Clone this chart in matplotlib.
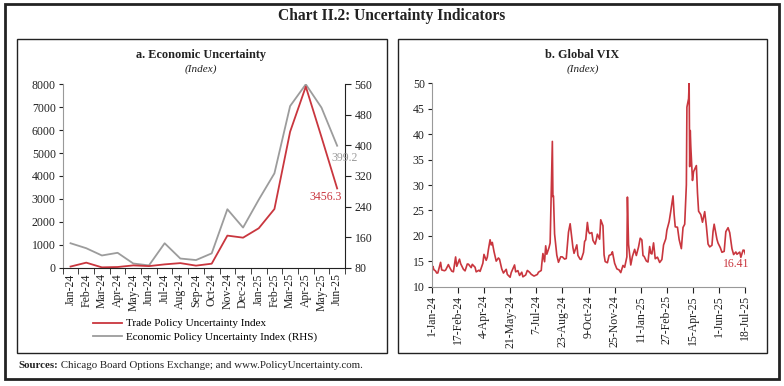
import matplotlib.pyplot as plt
import matplotlib.dates as mdates
import numpy as np
import pandas as pd
from matplotlib.patches import Rectangle

plt.rcParams['font.family'] = ['Liberation Serif', 'DejaVu Serif']

# ---- data: panel a ----
months = ['Jan-24', 'Feb-24', 'Mar-24', 'Apr-24', 'May-24', 'Jun-24', 'Jul-24', 'Aug-24',
          'Sep-24', 'Oct-24', 'Nov-24', 'Dec-24', 'Jan-25', 'Feb-25', 'Mar-25', 'Apr-25',
          'May-25', 'Jun-25']
trade_pu = [50, 220, 15, 30, 100, 70, 145, 200, 90, 175, 1400, 1310, 1720, 2560,
            5930, 7900, 5700, 3456.3]
econ_pu = [144, 131, 112, 119, 91, 86, 144, 104, 100, 117.5, 233, 185, 258, 327,
           503, 560, 499, 399.2]

# ---- data: panel b (VIX) ----
vix_dates = [
    '2024-01-02', '2024-01-03', '2024-01-05', '2024-01-08', '2024-01-10', '2024-01-12',
    '2024-01-17', '2024-01-19', '2024-01-24', '2024-01-26', '2024-01-31', '2024-02-02',
    '2024-02-06', '2024-02-09', '2024-02-13', '2024-02-15', '2024-02-20', '2024-02-22',
    '2024-02-27', '2024-03-01', '2024-03-05', '2024-03-07', '2024-03-12', '2024-03-14',
    '2024-03-19', '2024-03-21', '2024-03-26', '2024-03-28', '2024-04-02', '2024-04-04',
    '2024-04-08', '2024-04-10', '2024-04-12', '2024-04-15', '2024-04-17', '2024-04-19',
    '2024-04-22', '2024-04-24', '2024-04-26', '2024-04-30', '2024-05-02', '2024-05-06',
    '2024-05-09', '2024-05-14', '2024-05-16', '2024-05-21', '2024-05-23', '2024-05-29',
    '2024-05-31', '2024-06-04', '2024-06-07', '2024-06-11', '2024-06-13', '2024-06-18',
    '2024-06-21', '2024-06-25', '2024-06-28', '2024-07-03', '2024-07-09', '2024-07-11',
    '2024-07-16', '2024-07-17', '2024-07-19', '2024-07-22', '2024-07-24', '2024-07-26',
    '2024-07-30', '2024-08-01', '2024-08-02', '2024-08-05', '2024-08-06', '2024-08-07',
    '2024-08-09', '2024-08-13', '2024-08-16', '2024-08-20', '2024-08-23', '2024-08-27',
    '2024-08-30', '2024-09-03', '2024-09-06', '2024-09-09', '2024-09-11', '2024-09-13',
    '2024-09-18', '2024-09-20', '2024-09-24', '2024-09-26', '2024-09-30', '2024-10-02',
    '2024-10-04', '2024-10-07', '2024-10-09', '2024-10-11', '2024-10-15', '2024-10-17',
    '2024-10-21', '2024-10-23', '2024-10-25', '2024-10-29', '2024-10-31', '2024-11-04',
    '2024-11-06', '2024-11-08', '2024-11-12', '2024-11-15', '2024-11-19', '2024-11-21',
    '2024-11-25', '2024-11-29', '2024-12-03', '2024-12-06', '2024-12-10', '2024-12-13',
    '2024-12-17', '2024-12-18', '2024-12-20', '2024-12-24', '2024-12-27', '2024-12-31',
    '2025-01-03', '2025-01-07', '2025-01-10', '2025-01-13', '2025-01-15', '2025-01-17',
    '2025-01-21', '2025-01-24', '2025-01-27', '2025-01-29', '2025-01-31', '2025-02-03',
    '2025-02-06', '2025-02-10', '2025-02-14', '2025-02-18', '2025-02-21', '2025-02-25',
    '2025-02-27', '2025-03-03', '2025-03-06', '2025-03-10', '2025-03-12', '2025-03-14',
    '2025-03-18', '2025-03-21', '2025-03-25', '2025-03-28', '2025-03-31', '2025-04-03',
    '2025-04-04', '2025-04-07', '2025-04-08', '2025-04-09', '2025-04-10', '2025-04-11',
    '2025-04-14', '2025-04-16', '2025-04-21', '2025-04-23', '2025-04-25', '2025-04-29',
    '2025-05-02', '2025-05-06', '2025-05-09', '2025-05-12', '2025-05-15', '2025-05-19',
    '2025-05-21', '2025-05-23', '2025-05-28', '2025-05-30', '2025-06-03', '2025-06-06',
    '2025-06-10', '2025-06-13', '2025-06-17', '2025-06-20', '2025-06-24', '2025-06-27',
    '2025-07-01', '2025-07-03', '2025-07-08', '2025-07-10', '2025-07-14', '2025-07-16',
    '2025-07-18']
vix_values = [
    13.2, 14.0, 13.35, 13.08, 12.69, 12.7, 14.79, 13.3, 13.14, 13.26, 14.35, 13.85,
    13.06, 12.93, 15.85, 14.01, 15.42, 14.54, 13.43, 13.11, 14.46, 14.44, 13.75, 14.4,
    13.82, 12.92, 13.24, 13.01, 14.61, 16.35, 15.19, 15.8, 17.31, 19.23, 18.21, 18.71,
    16.94, 15.97, 15.03, 15.65, 15.39, 13.49, 12.69, 13.42, 12.42, 11.86, 12.77, 14.28,
    12.92, 13.16, 12.22, 12.85, 11.94, 12.3, 13.2, 12.84, 12.44, 12.09, 12.41, 12.85,
    13.19, 14.48, 16.52, 14.91, 18.04, 16.39, 17.69, 18.59, 23.39, 38.57, 27.71, 27.85,
    20.37, 16.19, 14.8, 15.88, 15.86, 15.43, 15.55, 20.72, 22.38, 19.45, 17.69, 16.56,
    18.23, 16.15, 15.39, 15.37, 16.73, 18.9, 19.21, 22.64, 20.86, 20.46, 20.64, 19.11,
    18.37, 19.24, 20.33, 19.34, 23.16, 21.98, 16.27, 14.94, 14.71, 16.14, 16.35, 16.87,
    14.6, 13.51, 13.3, 12.77, 14.18, 13.81, 15.87, 27.62, 18.36, 14.27, 15.95, 17.35,
    16.13, 17.82, 19.54, 19.19, 16.12, 15.97, 15.06, 14.85, 17.9, 16.56, 16.43, 18.62,
    15.5, 15.81, 14.77, 15.35, 18.21, 19.43, 21.13, 22.78, 24.87, 27.86, 24.23, 21.77,
    21.7, 19.28, 17.48, 21.65, 22.28, 30.02, 45.31, 46.98, 50.0, 33.62, 40.72, 37.56,
    30.89, 32.64, 33.82, 28.45, 24.84, 24.17, 22.68, 24.76, 21.9, 18.39, 17.83, 18.14,
    20.87, 22.29, 19.31, 18.57, 17.69, 16.77, 16.95, 20.82, 21.6, 20.62, 17.48, 16.32,
    16.83, 16.38, 16.81, 15.78, 17.2, 17.16, 16.41]
vix_ticks = ['2024-01-01', '2024-02-17', '2024-04-04', '2024-05-21', '2024-07-07',
             '2024-08-23', '2024-10-09', '2024-11-25', '2025-01-11', '2025-02-27',
             '2025-04-15', '2025-06-01', '2025-07-18']
vix_tick_labels = ['1-Jan-24', '17-Feb-24', '4-Apr-24', '21-May-24', '7-Jul-24',
                   '23-Aug-24', '9-Oct-24', '25-Nov-24', '11-Jan-25', '27-Feb-25',
                   '15-Apr-25', '1-Jun-25', '18-Jul-25']

RED = '#C9363E'
GREY = '#9C9C9C'
TXT = '#222222'
W, H = 784, 386
TICK_FS = 8.5


def box(x0, y0, x1, y1, lw):
    # rectangle given in pixel coords (top-left origin)
    fig.add_artist(Rectangle((x0 / W, 1 - y1 / H), (x1 - x0) / W, (y1 - y0) / H,
                             transform=fig.transFigure, fill=False, lw=lw, ec=TXT))


def axes_px(x0, y0, x1, y1):
    return fig.add_axes([x0 / W, 1 - y1 / H, (x1 - x0) / W, (y1 - y0) / H])


fig = plt.figure(figsize=(7.84, 3.86), dpi=100)

box(5, 4, 779, 379, 2.0)
box(17, 39, 387, 353, 1.0)
box(398, 39, 767, 353, 1.0)

fig.text(392 / W, 1 - 16 / H, 'Chart II.2: Uncertainty Indicators', ha='center', va='center',
         fontsize=11.2, fontweight='bold', color=TXT)

# ---- panel a ----
ax1 = axes_px(62.7, 84.3, 345, 267.7)
ax2 = ax1.twinx()
x = np.arange(len(months))
l1, = ax1.plot(x, trade_pu, color=RED, lw=1.3, label='Trade Policy Uncertainty Index')
l2, = ax2.plot(x, econ_pu, color=GREY, lw=1.3, label='Economic Policy Uncertainty Index (RHS)')
ax1.set_zorder(ax2.get_zorder() + 1)
ax1.patch.set_visible(False)

ax1.set_xlim(-0.5, len(months) - 0.5)
ax1.set_ylim(0, 8000)
ax2.set_ylim(80, 560)
ax1.set_yticks(range(0, 8001, 1000))
ax2.set_yticks(range(80, 561, 80))
ax1.set_xticks(x)
ax1.set_xticklabels(months, rotation=90)
ax1.set_xticks(np.arange(-0.5, len(months), 1), minor=True)
ax1.tick_params(axis='x', which='major', length=0, pad=4, labelsize=TICK_FS, colors=TXT)
ax1.tick_params(axis='x', which='minor', length=4, color=TXT)
ax1.tick_params(axis='y', length=3, labelsize=TICK_FS, colors=TXT, pad=2)
ax2.tick_params(axis='y', length=4, labelsize=TICK_FS, colors=TXT, pad=3)
for s in ['top', 'right']:
    ax1.spines[s].set_visible(False)
for s in ['top', 'left', 'bottom']:
    ax2.spines[s].set_visible(False)
ax1.spines['left'].set_color('#999999')
ax1.spines['bottom'].set_color(TXT)
ax2.spines['right'].set_color(TXT)

# end-point labels (the grey one sits just under the 400 tick label, as in the original)
ax2.annotate(f'{econ_pu[-1]:.1f}', xy=(x[-1], econ_pu[-1]), xytext=(-4, -9),
             textcoords='offset points', ha='left', va='center', fontsize=TICK_FS, color=GREY)
ax1.annotate(f'{trade_pu[-1]:.1f}', xy=(x[-1], trade_pu[-1]), xytext=(3, -6),
             textcoords='offset points', ha='right', va='center', fontsize=TICK_FS, color=RED)

fig.text(201 / W, 1 - 55 / H, 'a. Economic Uncertainty', ha='center', va='center',
         fontsize=8.8, fontweight='bold', color=TXT)
fig.text(201 / W, 1 - 69 / H, '(Index)', ha='center', va='center',
         fontsize=8, style='italic', color=TXT)

fig.legend(handles=[l1, l2], loc='center left', bbox_to_anchor=(93 / W, 1 - 330.5 / H),
           frameon=False, fontsize=8, handlelength=2.6, handletextpad=0.4,
           labelspacing=0.35, borderpad=0, borderaxespad=0)

# ---- panel b ----
ax3 = axes_px(431.7, 83.3, 745.3, 286.7)
dates = pd.to_datetime(vix_dates)
ax3.plot(dates, vix_values, color=RED, lw=1.2)
ax3.set_xlim(pd.Timestamp('2024-01-01'), pd.Timestamp('2025-07-18'))
ax3.set_ylim(10, 50)
ax3.set_yticks(range(10, 51, 5))
ax3.set_xticks(pd.to_datetime(vix_ticks))
ax3.set_xticklabels(vix_tick_labels, rotation=90)
ax3.tick_params(axis='x', length=4, labelsize=TICK_FS, colors=TXT, pad=2)
ax3.tick_params(axis='y', length=3, labelsize=TICK_FS, colors=TXT, pad=2)
for s in ['top', 'right']:
    ax3.spines[s].set_visible(False)
ax3.spines['left'].set_color('#999999')
ax3.spines['bottom'].set_color('#999999')
ax3.annotate(f'{vix_values[-1]:.2f}', xy=(dates[-1], vix_values[-1]), xytext=(3, -7),
             textcoords='offset points', ha='right', va='center', fontsize=TICK_FS, color=RED)

fig.text(582.5 / W, 1 - 55 / H, 'b. Global VIX', ha='center', va='center',
         fontsize=8.8, fontweight='bold', color=TXT)
fig.text(582.5 / W, 1 - 69 / H, '(Index)', ha='center', va='center',
         fontsize=8, style='italic', color=TXT)

# ---- sources ----
t1 = fig.text(18 / W, 1 - 366 / H, 'Sources:', ha='left', va='center',
              fontsize=7.8, fontweight='bold', color=TXT)
ax1.annotate(' Chicago Board Options Exchange; and www.PolicyUncertainty.com.',
             xy=(1, 0.5), xycoords=t1, ha='left', va='center', fontsize=7.8,
             color=TXT, annotation_clip=False)

fig.savefig('out.png', dpi=100)
